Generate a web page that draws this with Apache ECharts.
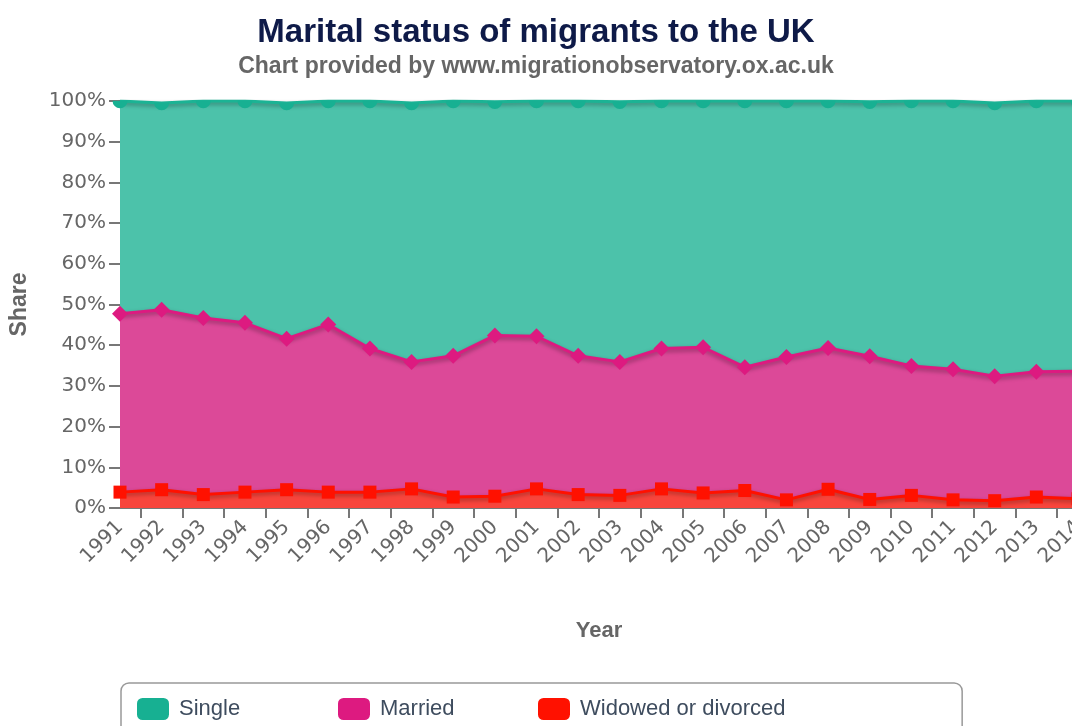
<!DOCTYPE html>
<html>
<head>
<meta charset="utf-8">
<script src="https://cdn.jsdelivr.net/npm/echarts@6/dist/echarts.min.js"></script>
<style>
  html, body { margin: 0; padding: 0; background: #fff; }
  #chart_area { width: 1072px; height: 726px; }
</style>
</head>
<body>
<div id="chart_area"></div>
<script>
// years on the x axis
var years = ['1991', '1992', '1993', '1994', '1995', '1996', '1997', '1998', '1999', '2000', '2001', '2002',
  '2003', '2004', '2005', '2006', '2007', '2008', '2009', '2010', '2011', '2012', '2013', '2014']
// shares in %
var widowed = [3.9, 4.5, 3.3, 3.9, 4.5, 3.9, 3.9, 4.7, 2.7, 2.9, 4.7, 3.3, 3.1, 4.7, 3.7, 4.3, 2.0, 4.6, 2.1, 3.1, 2.0, 1.8, 2.7, 2.3]
var married = [43.8, 44.2, 43.4, 41.6, 37.1, 41.2, 35.3, 31.2, 34.7, 39.5, 37.5, 34.1, 32.8, 34.5, 35.8, 30.3, 35.1, 34.7, 35.2, 31.8, 32.1, 30.6, 30.8, 31.3]
var single = [52.3, 50.8, 53.3, 54.5, 57.9, 54.9, 60.8, 63.6, 62.6, 57.4, 57.8, 62.6, 63.9, 60.8, 60.5, 65.4, 62.9, 60.7, 62.5, 65.1, 65.9, 67.1, 66.5, 66.4]
var yTicks = [0, 10, 20, 30, 40, 50, 60, 70, 80, 90, 100]
var legendNames = ['Single', 'Married', 'Widowed or divorced']

// half steps between years, only used to place the ticks between categories
var halfSteps = []
years.forEach(function(y, i) {
  halfSteps.push(y)
  if (i < years.length - 1) halfSteps.push(y + '.5')
})

var chart = echarts.init(document.getElementById('chart_area'))

var lineShadow = {
  shadowColor: 'rgba(0, 0, 0, 0.35)',
  shadowBlur: 4,
  shadowOffsetY: 2
}

// one legend per item so the items sit 200px apart, the first one carries the frame
var legendLefts = [121, 338, 538]
var legends = legendNames.map(function(name, i) {
  return {
    data: [name],
    left: legendLefts[i],
    top: i === 0 ? 683 : 698,
    padding: i === 0 ? [15, 722, 20, 16] : 0,
    borderColor: '#999999',
    borderWidth: i === 0 ? 1.5 : 0,
    borderRadius: 8,
    icon: 'roundRect',
    itemWidth: 32,
    itemHeight: 22,
    itemStyle: { borderWidth: 0 },
    lineStyle: { width: 0 },
    textStyle: {
      fontFamily: 'Liberation Sans',
      fontSize: 22,
      color: '#3e4c5e',
      padding: [2, 0, 0, 5]
    }
  }
})

chart.setOption({
  animation: false,
  title: [
    {
      text: 'Marital status of migrants to the UK',
      left: 'center',
      top: 11,
      textStyle: {
        fontFamily: 'Liberation Sans',
        fontWeight: 'bold',
        fontSize: 33,
        color: '#0e1a48'
      }
    },
    {
      text: 'Chart provided by www.migrationobservatory.ox.ac.uk',
      left: 'center',
      top: 50,
      textStyle: {
        fontFamily: 'Liberation Sans',
        fontWeight: 'bold',
        fontSize: 23,
        color: '#666666'
      }
    }
  ],
  legend: legends,
  grid: {
    left: 120,
    right: -6,
    top: 101,
    bottom: 218,
    outerBoundsMode: 'none',
    containLabel: false
  },
  xAxis: [
    {
      type: 'category',
      data: years,
      boundaryGap: false,
      name: 'Year',
      nameLocation: 'middle',
      nameGap: 112,
      nameTextStyle: {
        fontFamily: 'Liberation Sans',
        fontWeight: 'bold',
        fontSize: 22,
        color: '#666666'
      },
      axisLine: { lineStyle: { color: '#777777', width: 2 } },
      axisTick: { show: false },
      axisLabel: {
        rotate: 45,
        interval: 0,
        margin: 16,
        fontFamily: 'DejaVu Sans',
        fontSize: 20,
        color: '#666666'
      },
      splitLine: { show: false }
    },
    {
      type: 'category',
      data: halfSteps,
      boundaryGap: false,
      position: 'bottom',
      axisLine: { show: false },
      axisLabel: { show: false },
      axisTick: {
        interval: function(index) { return index % 2 === 1 },
        length: 10,
        lineStyle: { color: '#777777', width: 2 }
      },
      splitLine: { show: false }
    }
  ],
  yAxis: {
    type: 'value',
    min: 0,
    max: 100,
    interval: 10,
    name: 'Share',
    nameLocation: 'middle',
    nameRotate: 90,
    nameGap: 89,
    nameTextStyle: {
      fontFamily: 'Liberation Sans',
      fontWeight: 'bold',
      fontSize: 23,
      color: '#666666'
    },
    axisLine: { show: false },
    axisTick: { show: true, length: 11, lineStyle: { color: '#777777', width: 2 } },
    axisLabel: {
      margin: 14,
      fontFamily: 'DejaVu Sans',
      fontSize: 20,
      color: '#666666',
      formatter: function(v) { return yTicks.indexOf(v) > -1 ? v + '%' : '' }
    },
    splitLine: { show: false }
  },
  series: [
    {
      name: 'Widowed or divorced',
      type: 'line',
      stack: 'total',
      z: 4,
      symbol: 'rect',
      symbolSize: 13,
      itemStyle: { color: '#ff1100' },
      lineStyle: Object.assign({ width: 3, color: '#ff1100' }, lineShadow),
      areaStyle: { color: '#f8453c', opacity: 1 },
      data: widowed
    },
    {
      name: 'Married',
      type: 'line',
      stack: 'total',
      z: 3,
      symbol: 'diamond',
      symbolSize: 16,
      itemStyle: { color: '#dd1a80' },
      lineStyle: Object.assign({ width: 3, color: '#dd1a80' }, lineShadow),
      areaStyle: { color: '#dc4998', opacity: 1 },
      data: married
    },
    {
      name: 'Single',
      type: 'line',
      stack: 'total',
      z: 2,
      // the top circles are cut by the plot edge, so only the lower half shows
      symbol: 'path://M0,0 A1,1 0 0,0 2,0 Z',
      symbolSize: [15, 7.5],
      symbolOffset: [0, 3.5],
      itemStyle: { color: '#17b092' },
      lineStyle: Object.assign({ width: 3, color: '#1bb394' }, lineShadow),
      areaStyle: { color: '#4cc2aa', opacity: 1 },
      data: single
    }
  ]
})
</script>
</body>
</html>
